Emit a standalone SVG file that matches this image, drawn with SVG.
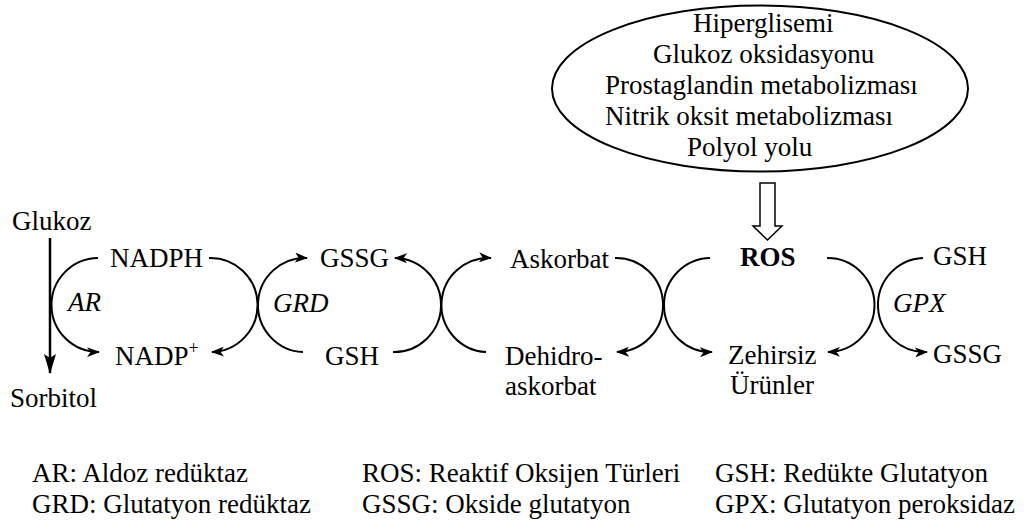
<svg xmlns="http://www.w3.org/2000/svg" width="1027" height="525" viewBox="0 0 1027 525" font-family="'Liberation Serif', 'Times New Roman', 'DejaVu Serif', serif">
<defs>
<marker id="ah" viewBox="0 0 13 10" refX="12" refY="5" markerWidth="13" markerHeight="10" markerUnits="userSpaceOnUse" orient="auto"><path d="M0,0 L13,5 L0,10 L3.5,5 z" fill="#000"/></marker>
<marker id="ahV" viewBox="0 0 20 12" refX="19" refY="6" markerWidth="20" markerHeight="12" markerUnits="userSpaceOnUse" orient="auto"><path d="M0,0 L20,6 L0,12 L4,6 z" fill="#000"/></marker>
</defs>
<style>
text{font-family:'Liberation Serif','Times New Roman','DejaVu Serif',serif;font-size:27px;fill:#000}
.it{font-style:italic}
.b{font-weight:bold}
.arc{fill:none;stroke:#000;stroke-width:2}
</style>
<rect width="1027" height="525" fill="#fff"/>

<g id="sources">
<ellipse cx="760" cy="88.5" rx="208" ry="83" fill="#fff" stroke="#000" stroke-width="2"/>
<text x="693" y="32">Hiperglisemi</text>
<text x="653" y="63">Glukoz oksidasyonu</text>
<text x="605" y="94">Prostaglandin metabolizması</text>
<text x="605" y="125">Nitrik oksit metabolizması</text>
<text x="687" y="156">Polyol yolu</text>
</g>

<g id="node-glukoz"><text x="12" y="230">Glukoz</text></g>
<g id="node-sorbitol"><text x="10" y="407">Sorbitol</text></g>
<g id="node-nadph"><text x="110" y="267">NADPH</text></g>
<g id="node-nadp"><text x="115" y="365">NADP<tspan font-size="18" dy="-11">+</tspan></text></g>
<g id="label-ar"><text class="it" x="68" y="311">AR</text></g>
<g id="label-grd"><text class="it" x="273" y="312">GRD</text></g>
<g id="node-gssg1"><text x="320" y="267">GSSG</text></g>
<g id="node-gsh1"><text x="325" y="365">GSH</text></g>
<g id="node-askorbat"><text x="510" y="268">Askorbat</text></g>
<g id="node-dehidro"><text x="505" y="365">Dehidro-</text><text x="505" y="395">askorbat</text></g>
<g id="node-ros"><text class="b" x="740" y="266">ROS</text></g>
<g id="node-zehirsiz"><text x="728" y="364">Zehirsiz</text><text x="730" y="394">Ürünler</text></g>
<g id="node-gsh2"><text x="933" y="265">GSH</text></g>
<g id="label-gpx"><text class="it" x="893" y="312">GPX</text></g>
<g id="node-gssg2"><text x="933" y="363">GSSG</text></g>

<g id="connectors">
<path d="M50,238 V373" stroke="#000" stroke-width="2.5" fill="none" marker-end="url(#ahV)"/>
<polygon points="760,183 775,183 775,226 782,226 767.5,240 753,226 760,226" fill="#fff" stroke="#000" stroke-width="1.5"/>
<path class="arc" d="M98,258 A47,47 0 0 0 99,352" marker-end="url(#ah)"/>
<path class="arc" d="M209,258 A47,47 0 0 1 212,352" marker-end="url(#ah)"/>
<path class="arc" d="M303,352 A47,47 0 0 1 307,258" marker-end="url(#ah)"/>
<path class="arc" d="M393,352 A47,47 0 0 0 395,258" marker-end="url(#ah)"/>
<path class="arc" d="M486,352 A47,47 0 0 1 491,258" marker-end="url(#ah)"/>
<path class="arc" d="M615,258 A47,47 0 0 1 617,352" marker-end="url(#ah)"/>
<path class="arc" d="M710,258 A47,47 0 0 0 712,352" marker-end="url(#ah)"/>
<path class="arc" d="M827,258 A47,47 0 0 1 828,352" marker-end="url(#ah)"/>
<path class="arc" d="M923,258 A47,47 0 0 0 927,352" marker-end="url(#ah)"/>
</g>

<g id="legend">
<text x="32" y="482">AR: Aldoz redüktaz</text>
<text x="32" y="513">GRD: Glutatyon redüktaz</text>
<text x="362" y="482">ROS: Reaktif Oksijen Türleri</text>
<text x="362" y="513">GSSG: Okside glutatyon</text>
<text x="715" y="482">GSH: Redükte Glutatyon</text>
<text x="715" y="513">GPX: Glutatyon peroksidaz</text>
</g>
</svg>
